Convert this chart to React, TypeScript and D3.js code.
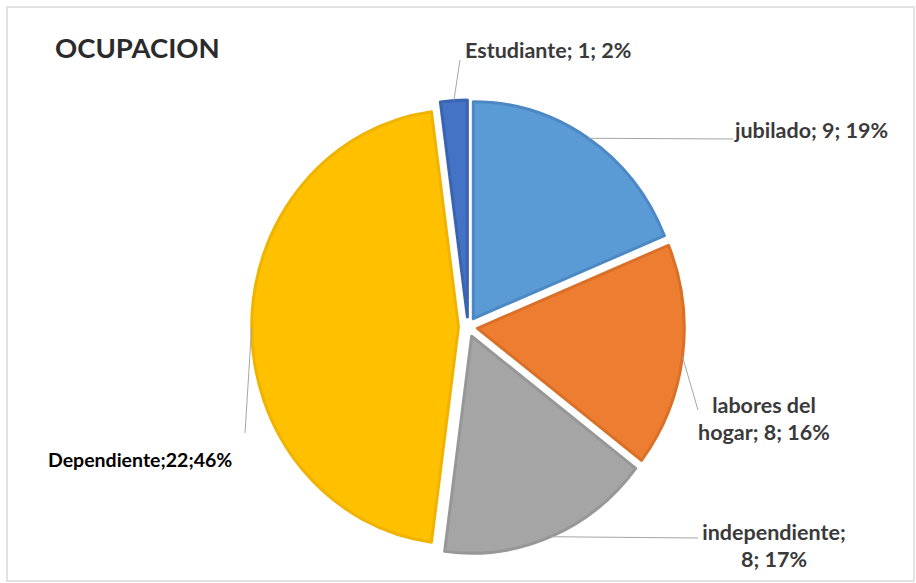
import React from "react";
import * as d3 from "d3";

const categories = ["jubilado", "labores del hogar", "independiente", "Dependiente", "Estudiante"];
const values = [9, 8, 8, 22, 1];
const labelLines = [
  ["jubilado; 9; 19%"],
  ["labores del", "hogar; 8; 16%"],
  ["independiente;", "8; 17%"],
  ["Dependiente;22;46%"],
  ["Estudiante; 1; 2%"],
];
const fills = ["#5b9bd5", "#ed7d31", "#a5a5a5", "#ffc000", "#4472c4"];
const rims = ["#4c89c4", "#da7028", "#979797", "#f0b300", "#3a64b0"];

// layout only
const W = 916, H = 583;
const cx = 468, cy = 327, R = 217, SX = 0.953, EXPLODE = 10;
const labelPos = [
  { x: 735, y: 138, anchor: "start", lx: 733, ly: 139, lh: 0, color: "#3a3a3a", size: 21.5 },
  { x: 764, y: 413, anchor: "middle", lx: 698, ly: 410, lh: 27, color: "#3a3a3a", size: 21.5 },
  { x: 774, y: 540, anchor: "middle", lx: 698, ly: 538, lh: 27, color: "#3a3a3a", size: 21.5 },
  { x: 48, y: 467, anchor: "start", lx: 245, ly: 433, lh: 0, color: "#000000", size: 19.5 },
  { x: 465, y: 58, anchor: "start", lx: 460, ly: 60, lh: 0, color: "#3a3a3a", size: 21.5 },
];

export default function App() {
  const pie = d3.pie<number>().sort(null).startAngle(0).endAngle(2 * Math.PI);
  const arcs = pie(values);
  const arc = d3.arc<d3.PieArcDatum<number>>().innerRadius(0).outerRadius(R);

  const offset = (a: d3.PieArcDatum<number>) => {
    const m = (a.startAngle + a.endAngle) / 2;
    return [Math.sin(m) * EXPLODE, -Math.cos(m) * EXPLODE];
  };
  const edgePoint = (a: d3.PieArcDatum<number>) => {
    const m = (a.startAngle + a.endAngle) / 2;
    const [ox, oy] = offset(a);
    return [cx + (ox + Math.sin(m) * R) * SX, cy + oy - Math.cos(m) * R];
  };

  return (
    <svg width={W} height={H} style={{ position: "absolute", left: 0, top: 0, background: "#fff" }}>
      <rect x={7} y={7} width={907} height={574} fill="#fff" stroke="#d9d9d9" strokeWidth={1.5} />
      <text x={55} y={58} fontFamily="Lato, 'Open Sans', sans-serif" fontWeight={700} fontSize={27.5} fill="#2b2b2b">
        OCUPACION
      </text>
      <g transform={`translate(${cx},${cy}) scale(${SX},1)`}>
        {arcs.map((a, i) => {
          const [ox, oy] = offset(a);
          return (
            <path
              key={categories[i]}
              d={arc(a) || ""}
              transform={`translate(${ox},${oy})`}
              fill={fills[i]}
              stroke={rims[i]}
              strokeWidth={3}
              strokeLinejoin="round"
              vectorEffect="non-scaling-stroke"
            />
          );
        })}
      </g>
      {arcs.map((a, i) => {
        const [sx, sy] = edgePoint(a);
        const p = labelPos[i];
        return (
          <line key={"l" + i} x1={sx} y1={sy} x2={p.lx} y2={p.ly} stroke="#a6a6a6" strokeWidth={1} />
        );
      })}
      {labelLines.map((lines, i) => {
        const p = labelPos[i];
        return (
          <text
            key={"t" + i}
            x={p.x}
            y={p.y}
            textAnchor={p.anchor}
            fontFamily="Lato, 'Open Sans', sans-serif"
            fontWeight={700}
            fontSize={p.size}
            fill={p.color}
          >
            {lines.map((ln, j) => (
              <tspan key={j} x={p.x} dy={j === 0 ? 0 : p.lh}>
                {ln}
              </tspan>
            ))}
          </text>
        );
      })}
    </svg>
  );
}
